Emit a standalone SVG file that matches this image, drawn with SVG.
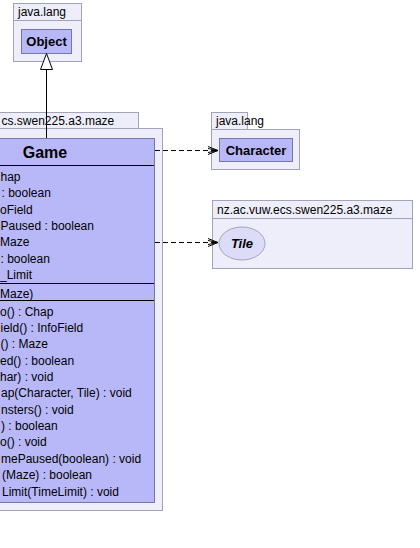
<svg xmlns="http://www.w3.org/2000/svg" width="420" height="548" viewBox="0 0 420 548">
<style>
.pkg{fill:#EEEEFA;stroke:#A3A3B8;stroke-width:1}
.cls{fill:#B8B8F8;stroke:#7676A8;stroke-width:1}
.sep{stroke:#000;stroke-width:1}
.plabel{font-family:"Liberation Sans",Arial,sans-serif;font-size:12px;fill:#000}
.cname{font-family:"Liberation Sans",Arial,sans-serif;font-size:13px;font-weight:bold;fill:#000}
.mem{font-family:"Liberation Sans",Arial,sans-serif;font-size:12px;fill:#000}
.dep{stroke:#000;stroke-width:1;fill:none;stroke-dasharray:5,3}
</style>
<defs>
<marker id="open" viewBox="0 0 10 10" refX="10" refY="5" markerWidth="10" markerHeight="10" markerUnits="userSpaceOnUse" orient="auto">
<path d="M0,1 L10,5 L0,9 M0,3 L10,5 L0,7" fill="none" stroke="#000" stroke-width="1"/>
</marker>
</defs>

<g id="pkg-java-lang-1">
<rect class="pkg" x="13.5" y="3.5" width="68" height="17"/>
<rect class="pkg" x="13.5" y="20.5" width="68" height="41"/>
<text class="plabel" x="18" y="16">java.lang</text>
</g>
<g id="Object">
<rect class="cls" x="21.5" y="29.5" width="50" height="24"/>
<text class="cname" x="46.5" y="46" text-anchor="middle">Object</text>
</g>

<g id="pkg-maze-game">
<rect class="pkg" x="-66.5" y="112.5" width="205" height="16"/>
<rect class="pkg" x="-72.5" y="128.5" width="235" height="382"/>
<text class="plabel" x="1.5" y="125">cs.swen225.a3.maze</text>
</g>
<g id="Game">
<rect class="cls" x="-64.5" y="138.5" width="219" height="364"/>
<line class="sep" x1="-64" y1="165.5" x2="154" y2="165.5"/>
<line class="sep" x1="-64" y1="283.5" x2="154" y2="283.5"/>
<line class="sep" x1="-64" y1="300.5" x2="154" y2="300.5"/>
<text x="45" y="158" text-anchor="middle" font-family="Liberation Sans,Arial,sans-serif" font-size="16" font-weight="bold">Game</text>
<text class="mem" x="0.5" y="181">hap</text>
<text class="mem" x="1.5" y="197.3">: boolean</text>
<text class="mem" x="0" y="213.7">oField</text>
<text class="mem" x="0.5" y="230">Paused : boolean</text>
<text class="mem" x="0" y="246.3">Maze</text>
<text class="mem" x="0.5" y="262.7">: boolean</text>
<text class="mem" x="0" y="279">_Limit</text>
<text class="mem" x="0" y="297.5">Maze)</text>
<text class="mem" x="0" y="315.5">o() : Chap</text>
<text class="mem" x="0.5" y="331.9">ield() : InfoField</text>
<text class="mem" x="0.5" y="348.2">() : Maze</text>
<text class="mem" x="0" y="364.6">ed() : boolean</text>
<text class="mem" x="0" y="380.9">har) : void</text>
<text class="mem" x="1" y="397.3">ap(Character, Tile) : void</text>
<text class="mem" x="1" y="413.7">nsters() : void</text>
<text class="mem" x="1" y="430">) : boolean</text>
<text class="mem" x="0" y="446.4">o() : void</text>
<text class="mem" x="1" y="462.7">mePaused(boolean) : void</text>
<text class="mem" x="2" y="479.1">(Maze) : boolean</text>
<text class="mem" x="2" y="495.5">Limit(TimeLimit) : void</text>
</g>

<g id="pkg-java-lang-2">
<rect class="pkg" x="211.5" y="112.5" width="36" height="17"/>
<rect class="pkg" x="211.5" y="129.5" width="88" height="40"/>
<text class="plabel" x="216" y="125">java.lang</text>
</g>
<g id="Character">
<rect class="cls" x="219.5" y="138.5" width="73" height="23"/>
<text class="cname" x="256" y="155" text-anchor="middle">Character</text>
</g>

<g id="pkg-maze-tile">
<rect class="pkg" x="212.5" y="200.5" width="200" height="18"/>
<rect class="pkg" x="212.5" y="218.5" width="200" height="50"/>
<text class="plabel" x="217" y="214">nz.ac.vuw.ecs.swen225.a3.maze</text>
</g>
<g id="Tile">
<ellipse cx="242" cy="243.5" rx="23" ry="16.5" fill="#DCDCF8" stroke="#A3A3C0" stroke-width="1"/>
<text class="cname" x="242" y="248" text-anchor="middle" font-style="italic">Tile</text>
</g>

<g id="connectors">
<line x1="46.5" y1="69" x2="46.5" y2="138" stroke="#000" stroke-width="1"/>
<path d="M46.5,53.5 L40.5,69.5 L52.5,69.5 Z" fill="#fff" stroke="#000" stroke-width="1"/>
<line class="dep" x1="155" y1="150.5" x2="218" y2="150.5" marker-end="url(#open)"/>
<line class="dep" x1="155" y1="242.5" x2="218" y2="242.5" marker-end="url(#open)"/>
</g>
</svg>
